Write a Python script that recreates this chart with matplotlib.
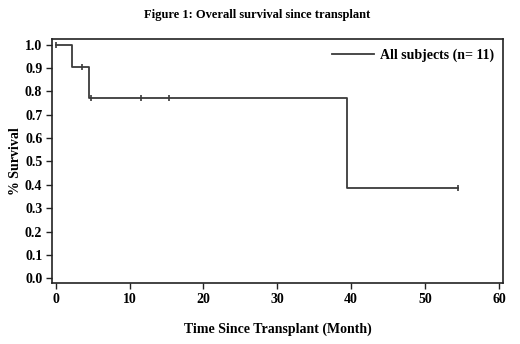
import numpy as np
import matplotlib.pyplot as plt

plt.rcParams['font.family'] = ['Liberation Serif', 'DejaVu Serif']
plt.rcParams['font.weight'] = 'bold'

# Kaplan-Meier step curve
step_times = [0.0, 2.2, 4.5, 39.4, 54.5]
step_surv = [1.0, 0.903, 0.773, 0.387, 0.387]

# censored subjects
cens_times = [0.0, 3.6, 4.8, 11.5, 15.3, 54.5]
cens_surv = [1.0, 0.903, 0.773, 0.773, 0.773, 0.387]

x_ticks = [0, 10, 20, 30, 40, 50, 60]
y_ticks = np.round(np.arange(0, 1.01, 0.1), 1)

fig = plt.figure(figsize=(5.2, 3.44), dpi=100)
fig.patch.set_facecolor('white')
ax = fig.add_axes([0.100, 0.177, 0.868, 0.710])

line_color = '#3a3a3a'
ax.step(step_times, step_surv, where='post', color=line_color, lw=1.3,
        label='All subjects (n= 11)')
ax.plot(cens_times, cens_surv, ls='none', marker='|', ms=4, mew=1.2,
        color=line_color)

ax.set_xlim(-0.5, 60.6)
ax.set_ylim(-0.021, 1.025)
ax.set_xticks(x_ticks)
ax.set_yticks(y_ticks)
ax.set_yticklabels(['%.1f' % v for v in y_ticks])
ax.tick_params(direction='out', length=4, width=1, labelsize=10, pad=3,
               color='#222222')
for lab in ax.get_xticklabels() + ax.get_yticklabels():
    lab.set_fontweight('bold')
for sp in ax.spines.values():
    sp.set_color('#222222')
    sp.set_linewidth(1.2)

ax.set_xlabel('Time Since Transplant (Month)', fontsize=10,
              fontweight='bold', labelpad=12)
ax.set_ylabel('% Survival', fontsize=10, fontweight='bold', labelpad=2)
fig.text(0.495, 0.955, 'Figure 1: Overall survival since transplant',
         ha='center', va='center', fontsize=9, fontweight='bold')

leg = ax.legend(loc='upper right', frameon=False, fontsize=10,
                handlelength=3.0, handletextpad=0.4, borderaxespad=0.3)
for t in leg.get_texts():
    t.set_fontweight('bold')

fig.savefig('out.png', dpi=100)
